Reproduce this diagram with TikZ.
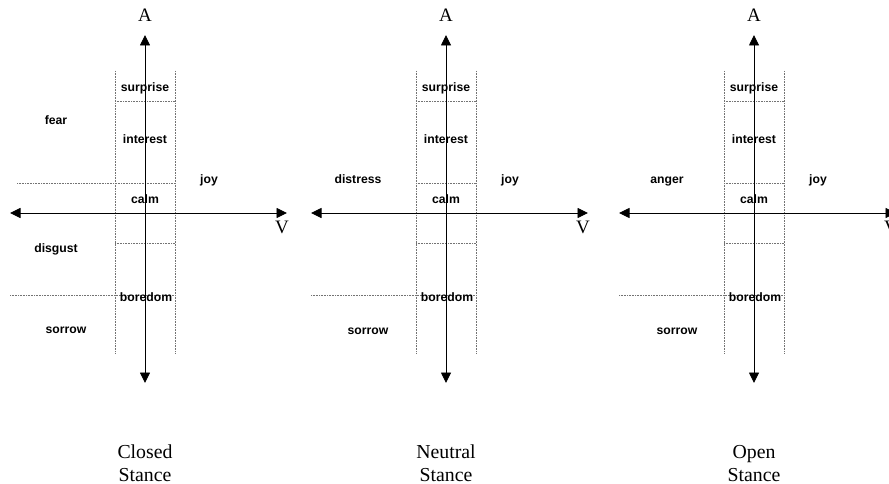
\documentclass[tikz,border=0pt]{standalone}
\usepackage{fontspec}
\setmainfont{Liberation Serif}
\setsansfont{Liberation Sans}
\usetikzlibrary{arrows.meta}

\tikzset{
  axis/.style={line width=0.9pt, {Triangle[length=10.5pt,width=10pt]}-{Triangle[length=10.5pt,width=10pt]}},
  grid line/.style={densely dotted, line width=0.6pt, black!55},
  emotion/.style={font=\sffamily\bfseries\fontsize{12.2}{14}\selectfont, inner sep=0pt, anchor=base},
  axis label/.style={font=\fontsize{19}{22}\selectfont, inner sep=0pt, anchor=base},
  stance/.style={font=\fontsize{19.8}{23}\selectfont, align=center, inner sep=0pt, anchor=base}
}

\begin{document}
\begin{tikzpicture}[x=1pt,y=-1pt]

\useasboundingbox (0,0) rectangle (889,484);

% closed stance
\begin{scope}[xshift=145pt]
\coordinate (cT) at (0,35);
\coordinate (cB) at (0,383);
\coordinate (cL) at (-135,213);
\coordinate (cR) at (142,213);
\coordinate (cK1) at (-30,71);
\coordinate (cK2) at (-30,354);
\coordinate (cK3) at (30,71);
\coordinate (cK4) at (30,354);
\coordinate (cE1) at (-30,101);
\coordinate (cF1) at (30,101);
\coordinate (cE2) at (-128,183);
\coordinate (cF2) at (30,183);
\coordinate (cE3) at (-30,243);
\coordinate (cF3) at (30,243);
\coordinate (cE4) at (-135,295);
\coordinate (cF4) at (30,295);

\draw [grid line] (cK1)--(cK2) (cK3)--(cK4);
\draw [grid line] (cE1)--(cF1) (cE2)--(cF2) (cE3)--(cF3) (cE4)--(cF4);
\draw [axis] (cT)--(cB);
\draw [axis] (cL)--(cR);

\node [axis label] (cA) at (0,22) {A};
\node [axis label] (cV) at (137,233) {V};
\node [emotion] (cSurprise) at (0,92) {surprise};
\node [emotion] (cInterest) at (0,144) {interest};
\node [emotion] (cCalm) at (0,204) {calm};
\node [emotion] (cBoredom) at (1,301) {boredom};
\node [emotion] (cJoy) at (64,183) {joy};
\node [emotion] (cFear) at (-89,125) {fear};
\node [emotion] (cDisgust) at (-89,252) {disgust};
\node [emotion] (cSorrow) at (-79,333) {sorrow};
\node [stance] (cStance) at (0,481) {Closed\\Stance};
\end{scope}

% neutral stance
\begin{scope}[xshift=446pt]
\coordinate (nT) at (0,35);
\coordinate (nB) at (0,383);
\coordinate (nL) at (-135,213);
\coordinate (nR) at (142,213);
\coordinate (nK1) at (-30,71);
\coordinate (nK2) at (-30,354);
\coordinate (nK3) at (30,71);
\coordinate (nK4) at (30,354);
\coordinate (nE1) at (-30,101);
\coordinate (nF1) at (30,101);
\coordinate (nE2) at (-30,183);
\coordinate (nF2) at (30,183);
\coordinate (nE3) at (-30,243);
\coordinate (nF3) at (30,243);
\coordinate (nE4) at (-135,295);
\coordinate (nF4) at (30,295);

\draw [grid line] (nK1)--(nK2) (nK3)--(nK4);
\draw [grid line] (nE1)--(nF1) (nE2)--(nF2) (nE3)--(nF3) (nE4)--(nF4);
\draw [axis] (nT)--(nB);
\draw [axis] (nL)--(nR);

\node [axis label] (nA) at (0,22) {A};
\node [axis label] (nV) at (137,233) {V};
\node [emotion] (nSurprise) at (0,92) {surprise};
\node [emotion] (nInterest) at (0,144) {interest};
\node [emotion] (nCalm) at (0,204) {calm};
\node [emotion] (nBoredom) at (1,301) {boredom};
\node [emotion] (nJoy) at (64,183) {joy};
\node [emotion] (nDistress) at (-88,183) {distress};
\node [emotion] (nSorrow) at (-78,334) {sorrow};
\node [stance] (nStance) at (0,481) {Neutral\\Stance};
\end{scope}

% open stance
\begin{scope}[xshift=754pt]
\coordinate (oT) at (0,35);
\coordinate (oB) at (0,383);
\coordinate (oL) at (-135,213);
\coordinate (oR) at (142,213);
\coordinate (oK1) at (-30,71);
\coordinate (oK2) at (-30,354);
\coordinate (oK3) at (30,71);
\coordinate (oK4) at (30,354);
\coordinate (oE1) at (-30,101);
\coordinate (oF1) at (30,101);
\coordinate (oE2) at (-30,183);
\coordinate (oF2) at (30,183);
\coordinate (oE3) at (-30,243);
\coordinate (oF3) at (30,243);
\coordinate (oE4) at (-135,295);
\coordinate (oF4) at (30,295);

\draw [grid line] (oK1)--(oK2) (oK3)--(oK4);
\draw [grid line] (oE1)--(oF1) (oE2)--(oF2) (oE3)--(oF3) (oE4)--(oF4);
\draw [axis] (oT)--(oB);
\draw [axis] (oL)--(oR);

\node [axis label] (oA) at (0,22) {A};
\node [axis label] (oV) at (137,233) {V};
\node [emotion] (oSurprise) at (0,92) {surprise};
\node [emotion] (oInterest) at (0,144) {interest};
\node [emotion] (oCalm) at (0,204) {calm};
\node [emotion] (oBoredom) at (1,301) {boredom};
\node [emotion] (oJoy) at (64,183) {joy};
\node [emotion] (oAnger) at (-87,183) {anger};
\node [emotion] (oSorrow) at (-77,334) {sorrow};
\node [stance] (oStance) at (0,481) {Open\\Stance};
\end{scope}
\end{tikzpicture}
\end{document}
